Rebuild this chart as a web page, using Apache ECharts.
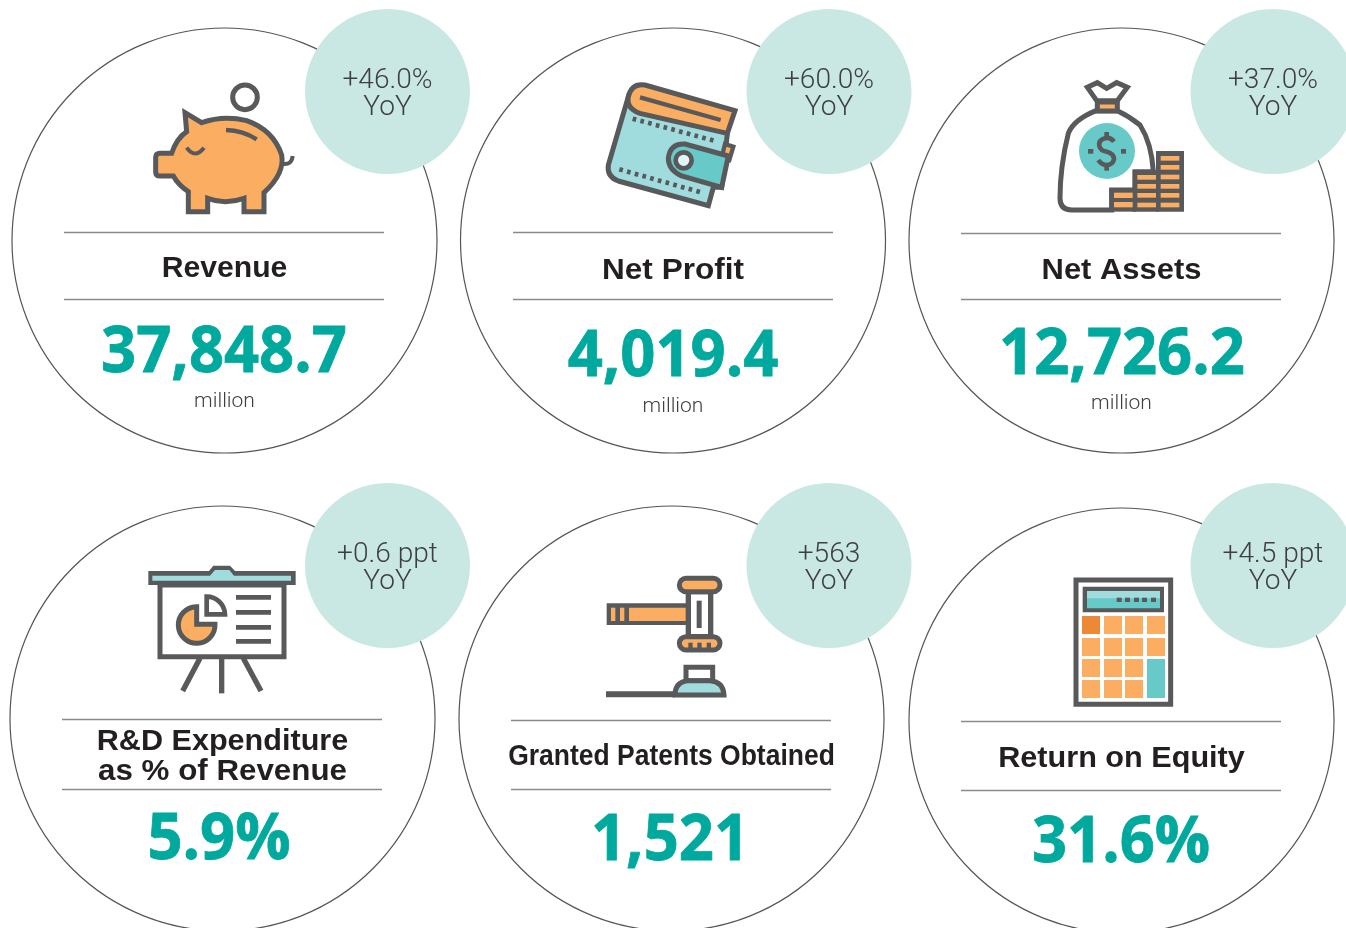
<!DOCTYPE html>
<html>
<head>
<meta charset="utf-8">
<title>Key figures</title>
<script src="https://cdn.jsdelivr.net/npm/echarts@6/dist/echarts.min.js"></script>
<style>
  html, body { margin: 0; padding: 0; background: #fff; overflow: hidden; }
  #main { width: 1346px; height: 928px; }
</style>
</head>
<body>
<div id="main"></div>
<script>
// figures
const metricNames = ['Revenue', 'Net Profit', 'Net Assets', 'R&D Expenditure\nas % of Revenue', 'Granted Patents Obtained', 'Return on Equity'];
const metricValues = ['37,848.7', '4,019.4', '12,726.2', '5.9%', '1,521', '31.6%'];
const metricUnits = ['million', 'million', 'million', '', '', ''];
const yoyChanges = ['+46.0%', '+60.0%', '+37.0%', '+0.6 ppt', '+563', '+4.5 ppt'];
const yoyLabel = 'YoY';

// card layout, one row per card
const cards = [
  { cx: 224.5, cy: 240.5, bx: 387.5, by: 91.5, lx: 64, l1: 232, l2: 299, ty: 269, tsx: [1.04], vx: 224, vy: 353, uy: 402, icon: piggy, ix: 140, iy: 70 },
  { cx: 673, cy: 240.5, bx: 829, by: 91.5, lx: 513, l1: 232, l2: 299, ty: 271, tsx: [1.087], vx: 673, vy: 357, uy: 407, icon: wallet, ix: 590, iy: 70 },
  { cx: 1121.5, cy: 240.5, bx: 1273, by: 91.5, lx: 961, l1: 233, l2: 299, ty: 271, tsx: [1.066], vx: 1122, vy: 355, uy: 404, icon: moneyBag, ix: 1040, iy: 70 },
  { cx: 222.5, cy: 718.5, bx: 387.5, by: 565.5, lx: 62, l1: 719, l2: 789, ty: 742, tsx: [1.055, 1.08], vx: 219, vy: 840, uy: 0, icon: board, ix: 135, iy: 555 },
  { cx: 671.5, cy: 718.5, bx: 829, by: 565.5, lx: 511, l1: 720, l2: 789, ty: 757, tsx: [0.913], vx: 670, vy: 841, uy: 0, icon: gavel, ix: 590, iy: 560 },
  { cx: 1121.5, cy: 720.5, bx: 1273, by: 565.5, lx: 961, l1: 721, l2: 790, ty: 759, tsx: [1.056], vx: 1121, vy: 843, uy: 0, icon: calculator, ix: 1060, iy: 565 }
];

const GRAY = '#58595b';
const ORANGE = '#fbae62';
const AQUA = '#a0dbdd';
const TEAL = '#68c9c9';
const EXTRA = 3;

function path(d, fill, lw) {
  return { type: 'path', shape: { pathData: d }, style: { fill: fill || 'none', stroke: lw ? GRAY : 'none', lineWidth: lw ? lw + EXTRA : 0 } };
}
function rect(x, y, w, h, fill, lw, r) {
  return { type: 'rect', shape: { x: x, y: y, width: w, height: h, r: r || 0 }, style: { fill: fill, stroke: lw ? GRAY : 'none', lineWidth: lw ? lw + EXTRA : 0 } };
}
function circle(x, y, r, fill, lw) {
  return { type: 'circle', shape: { cx: x, cy: y, r: r }, style: { fill: fill, stroke: lw ? GRAY : 'none', lineWidth: lw ? lw + EXTRA : 0 } };
}
function dashed(d, lw, dash) {
  const el = path(d, null, lw);
  el.style.lineDash = dash;
  return el;
}

// icons are drawn at 3x and scaled down by the group
function piggy() {
  return [
    path('M135 128L185 158Q250 135 320 152Q400 180 425 255Q435 310 372 368L372 425L312 425L312 385Q255 405 203 385L203 425L145 425L145 365Q115 345 100 318L60 318Q47 318 47 305L47 262Q47 250 60 250L95 250Q110 205 140 185Z', ORANGE, 12),
    circle(315, 82, 37, '#fff', 12),
    path('M258 180Q310 182 350 208', null, 10),
    path('M140 233Q165 268 192 233', null, 9),
    path('M430 282Q455 285 458 258', null, 9)
  ];
}

function wallet() {
  return [
    path('M115 80L55 285Q50 320 85 333L355 407L370 352L395 352L412 190Z', AQUA, 12),
    path('M405 222L430 230L418 270L395 262Z', ORANGE, 10),
    path('M435 122L165 45Q125 38 115 80Q108 115 150 130L412 190Z', ORANGE, 12),
    path('M150 82L392 150', null, 10),
    dashed('M128 146L372 212', 11, [11, 13]),
    dashed('M88 298L330 366', 11, [11, 13]),
    path('M415 258L285 222Q240 220 235 265Q235 300 275 318L395 352Z', TEAL, 12),
    circle(281, 271, 24, '#e3f4f4', 11)
  ];
}

function moneyBag() {
  const els = [
    path('M168 122Q100 150 85 190Q60 290 60 385Q60 420 95 420L215 420L215 360L285 360L285 305L340 305Q335 220 300 165Q270 140 232 122Z', '#fff', 12),
    path('M170 92L142 52L172 38L200 55L230 38L262 52L232 92Z', '#fff', 12),
    rect(172, 96, 60, 27, ORANGE, 12),
    circle(201, 243, 84, TEAL),
    path('M222 215Q210 200 195 205Q175 210 178 228Q182 243 200 245Q222 250 222 268Q218 285 200 285Q185 285 175 270', null, 11),
    rect(193, 186, 14, 14, GRAY),
    rect(193, 290, 14, 12, GRAY),
    rect(144, 237, 16, 14, GRAY),
    rect(243, 237, 15, 14, GRAY),
    rect(208, 356, 80, 69, GRAY),
    rect(278, 300, 78, 125, GRAY),
    rect(348, 243, 84, 182, GRAY)
  ];
  [368, 396].forEach(y => els.push(rect(222, y, 56, 16, ORANGE)));
  [315, 342, 369, 398].forEach(y => els.push(rect(292, y, 56, 14, ORANGE)));
  [258, 285, 314, 342, 369, 398].forEach(y => els.push(rect(362, y, 56, 14, ORANGE)));
  return els;
}

function board() {
  const els = [
    path('M40 48L222 48L235 32L285 32L300 48L482 48L482 90L40 90Z', GRAY),
    path('M52 62L225 62L240 45L283 45L297 62L468 62L468 77L52 77Z', AQUA),
    rect(75, 90, 372, 215, '#fff', 12),
    path('M185 155L185 208L240 208A55 55 0 1 1 185 155Z', ORANGE, 12),
    path('M215 125A55 55 0 0 1 270 178L215 178Z', '#fff', 11),
    path('M195 310L143 408', null, 13),
    path('M260 310L260 415', null, 13),
    path('M325 310L378 408', null, 13)
  ];
  [120, 165, 210, 252].forEach(y => els.push(rect(303, y, 105, 14, GRAY)));
  return els;
}

function gavel() {
  return [
    rect(50, 130, 245, 65, GRAY),
    rect(117, 143, 175, 40, ORANGE),
    rect(63, 143, 13, 40, ORANGE),
    rect(90, 143, 13, 40, ORANGE),
    rect(295, 95, 67, 135, '#fff', 13),
    rect(320, 122, 15, 82, GRAY),
    rect(268, 55, 122, 40, ORANGE, 12, 20),
    rect(268, 230, 122, 40, ORANGE, 12, 20),
    rect(295, 248, 13, 20, GRAY),
    rect(322, 248, 13, 20, GRAY),
    rect(350, 248, 13, 20, GRAY),
    path('M48 403L255 403', null, 15),
    rect(288, 322, 80, 40, '#fff', 12),
    path('M255 405Q255 365 295 362L360 362Q400 365 402 405Z', AQUA, 12)
  ];
}

function calculator() {
  const els = [
    rect(48, 45, 284, 373, '#fff', 12),
    rect(68, 65, 244, 77, GRAY),
    rect(81, 78, 219, 24, AQUA),
    rect(81, 100, 219, 30, TEAL)
  ];
  [170, 195, 222, 246, 273].forEach(x => els.push(rect(x, 98, 15, 13, GRAY)));
  [66, 132, 195, 261].forEach((x, col) => {
    [153, 219, 282, 345].forEach((y, row) => {
      if (col === 3 && row > 1) return;
      els.push(rect(x, y, 54, 54, col === 0 && row === 0 ? '#ed8936' : ORANGE));
    });
  });
  els.push(rect(261, 282, 54, 117, TEAL));
  return els;
}

function text(str, x, y, font, color, sx) {
  return {
    type: 'text', x: x, y: y, scaleX: sx || 1,
    style: { text: str, font: font, fill: color, textAlign: 'center', textVerticalAlign: 'middle' }
  };
}

const TITLE_FONT = 'bold 29px "Liberation Sans", Arial, sans-serif';
const VALUE_FONT = 'bold 65px "Open Sans", "Noto Sans", sans-serif';
const LIGHT_FONT = '300 27px Roboto, "Liberation Sans", sans-serif';
const UNIT_FONT = '300 21px Roboto, "Liberation Sans", sans-serif';

function renderCard(params) {
  const i = params.dataIndex;
  const c = cards[i];
  const els = [
    { type: 'circle', shape: { cx: c.cx, cy: c.cy, r: 212.5 }, style: { fill: 'none', stroke: '#555', lineWidth: 1.2 } },
    { type: 'circle', shape: { cx: c.bx, cy: c.by, r: 82.5 }, style: { fill: '#c9e8e4' } }
  ];
  [c.l1, c.l2].forEach(y => {
    els.push({ type: 'line', shape: { x1: c.lx, y1: y + 0.5, x2: c.lx + 320, y2: y + 0.5 }, style: { stroke: '#8a8a8a', lineWidth: 1.5 } });
  });
  els.push({ type: 'group', x: c.ix, y: c.iy, scaleX: 1 / 3, scaleY: 1 / 3, children: c.icon() });
  metricNames[i].split('\n').forEach((line, k) => {
    els.push(text(line, c.cx, c.ty + k * 30, TITLE_FONT, '#231f20', c.tsx[k]));
  });
  const value = text(metricValues[i], c.vx, c.vy, VALUE_FONT, '#00a99d', 0.945);
  value.style.stroke = '#00a99d';
  value.style.lineWidth = 0.8;
  els.push(value);
  if (metricUnits[i]) els.push(text(metricUnits[i], c.cx, c.uy, UNIT_FONT, '#3f3f41'));
  els.push(text(yoyChanges[i], c.bx, c.by - 10.5, LIGHT_FONT, '#3f3f41', 1.04));
  els.push(text(yoyLabel, c.bx, c.by + 16.5, LIGHT_FONT, '#3f3f41', 1.04));
  return { type: 'group', children: els };
}

const chart = echarts.init(document.getElementById('main'));
chart.setOption({
  animation: false,
  series: [{
    type: 'custom',
    coordinateSystem: 'none',
    silent: true,
    clip: false,
    data: metricNames.map((n, i) => i),
    renderItem: renderCard
  }]
});
</script>
</body>
</html>
